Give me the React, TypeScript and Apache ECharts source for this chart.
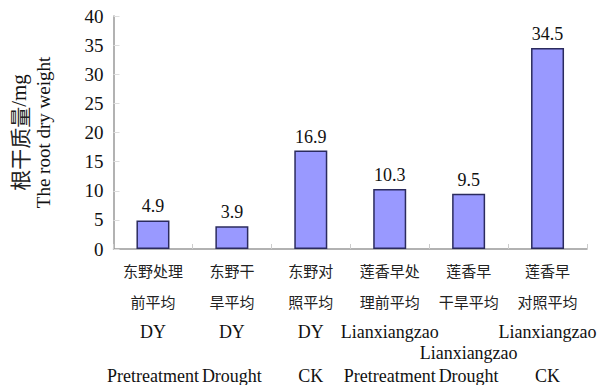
import React, { useEffect, useRef } from "react";
import * as echarts from "echarts";

const zhLine1 = ["东野处理", "东野干", "东野对", "莲香早处", "莲香早", "莲香早"];
const zhLine2 = ["前平均", "旱平均", "照平均", "理前平均", "干旱平均", "对照平均"];
const varietyUpper = ["DY", "DY", "DY", "Lianxiangzao", "", "Lianxiangzao"];
const varietyLower = ["", "", "", "", "Lianxiangzao", ""];
const treatment = ["Pretreatment", "Drought", "CK", "Pretreatment", "Drought", "CK"];
const rootDryWeight = [4.9, 3.9, 16.9, 10.3, 9.5, 34.5];
const yTicks = [0, 5, 10, 15, 20, 25, 30, 35, 40];

const categories = zhLine1.map((_, i) => String(i));

export default function App() {
  const ref = useRef<HTMLDivElement>(null);
  useEffect(() => {
    if (!ref.current) return;
    const chart = echarts.init(ref.current, null, { renderer: "svg" });
    const serif = "Times New Roman";
    const cjk = "Noto Sans CJK SC";
    chart.setOption({
      animation: false,
      backgroundColor: "#ffffff",
      textStyle: { fontFamily: serif },
      grid: { left: 90, right: 25, top: 16, bottom: 136, containLabel: false },
      xAxis: {
        type: "category",
        data: categories,
        axisLine: { lineStyle: { color: "#999999", width: 1.5 } },
        axisTick: { show: true, inside: true, length: 5, lineStyle: { color: "#cccccc" } },
        axisLabel: {
          interval: 0,
          margin: 6,
          fontFamily: serif,
          formatter: (v: string) => {
            const i = Number(v);
            return [
              `{z|${zhLine1[i]}}`,
              `{z|${zhLine2[i]}}`,
              `{e3|${varietyUpper[i] || " "}}`,
              `{e4|${varietyLower[i] || " "}}`,
              `{e5|${treatment[i]}}`,
            ].join("\n");
          },
          rich: {
            z: { fontFamily: cjk, fontSize: 15, lineHeight: 31, color: "#222" },
            e3: { fontFamily: serif, fontSize: 18, lineHeight: 29, color: "#111" },
            e4: { fontFamily: serif, fontSize: 18, lineHeight: 13, color: "#111" },
            e5: { fontFamily: serif, fontSize: 18, lineHeight: 33, color: "#111" },
          },
        },
        splitLine: { show: false },
      },
      yAxis: {
        type: "value",
        min: 0,
        max: 40,
        interval: 5,
        axisLine: { show: true, lineStyle: { color: "#999999", width: 1.5 } },
        axisTick: { show: true, inside: true, length: 6, lineStyle: { color: "#dddddd" } },
        splitLine: { show: false },
        axisLabel: {
          fontFamily: serif,
          margin: 10,
          formatter: (v: number) => (yTicks.includes(v) ? `{n|${v}}` : ""),
          rich: { n: { fontFamily: serif, fontSize: 19, color: "#111" } },
        },
        name: "{zh|根干质量}{mg|/mg}\n{en|The root dry weight}",
        nameLocation: "middle",
        nameGap: 58,
        nameRotate: 90,
        nameTextStyle: {
          fontFamily: serif,
          rich: {
            zh: { fontFamily: cjk, fontSize: 21, lineHeight: 26, color: "#222" },
            mg: { fontFamily: serif, fontSize: 21, lineHeight: 26, color: "#111" },
            en: { fontFamily: serif, fontSize: 19, lineHeight: 24, color: "#111" },
          },
        },
      },
      series: [
        {
          type: "bar",
          data: rootDryWeight,
          barWidth: 33,
          itemStyle: { color: "#9999ff", borderColor: "#2b2b5e", borderWidth: 1.5 },
          label: {
            show: true,
            position: "top",
            distance: 5,
            fontFamily: serif,
            formatter: (p: any) => `{n|${Number(p.value).toFixed(1)}}`,
            rich: { n: { fontFamily: serif, fontSize: 18, color: "#111" } },
          },
        },
      ],
    });
    return () => chart.dispose();
  }, []);
  return <div ref={ref} style={{ width: 612, height: 385, position: "absolute", left: 0, top: 0 }} />;
}
